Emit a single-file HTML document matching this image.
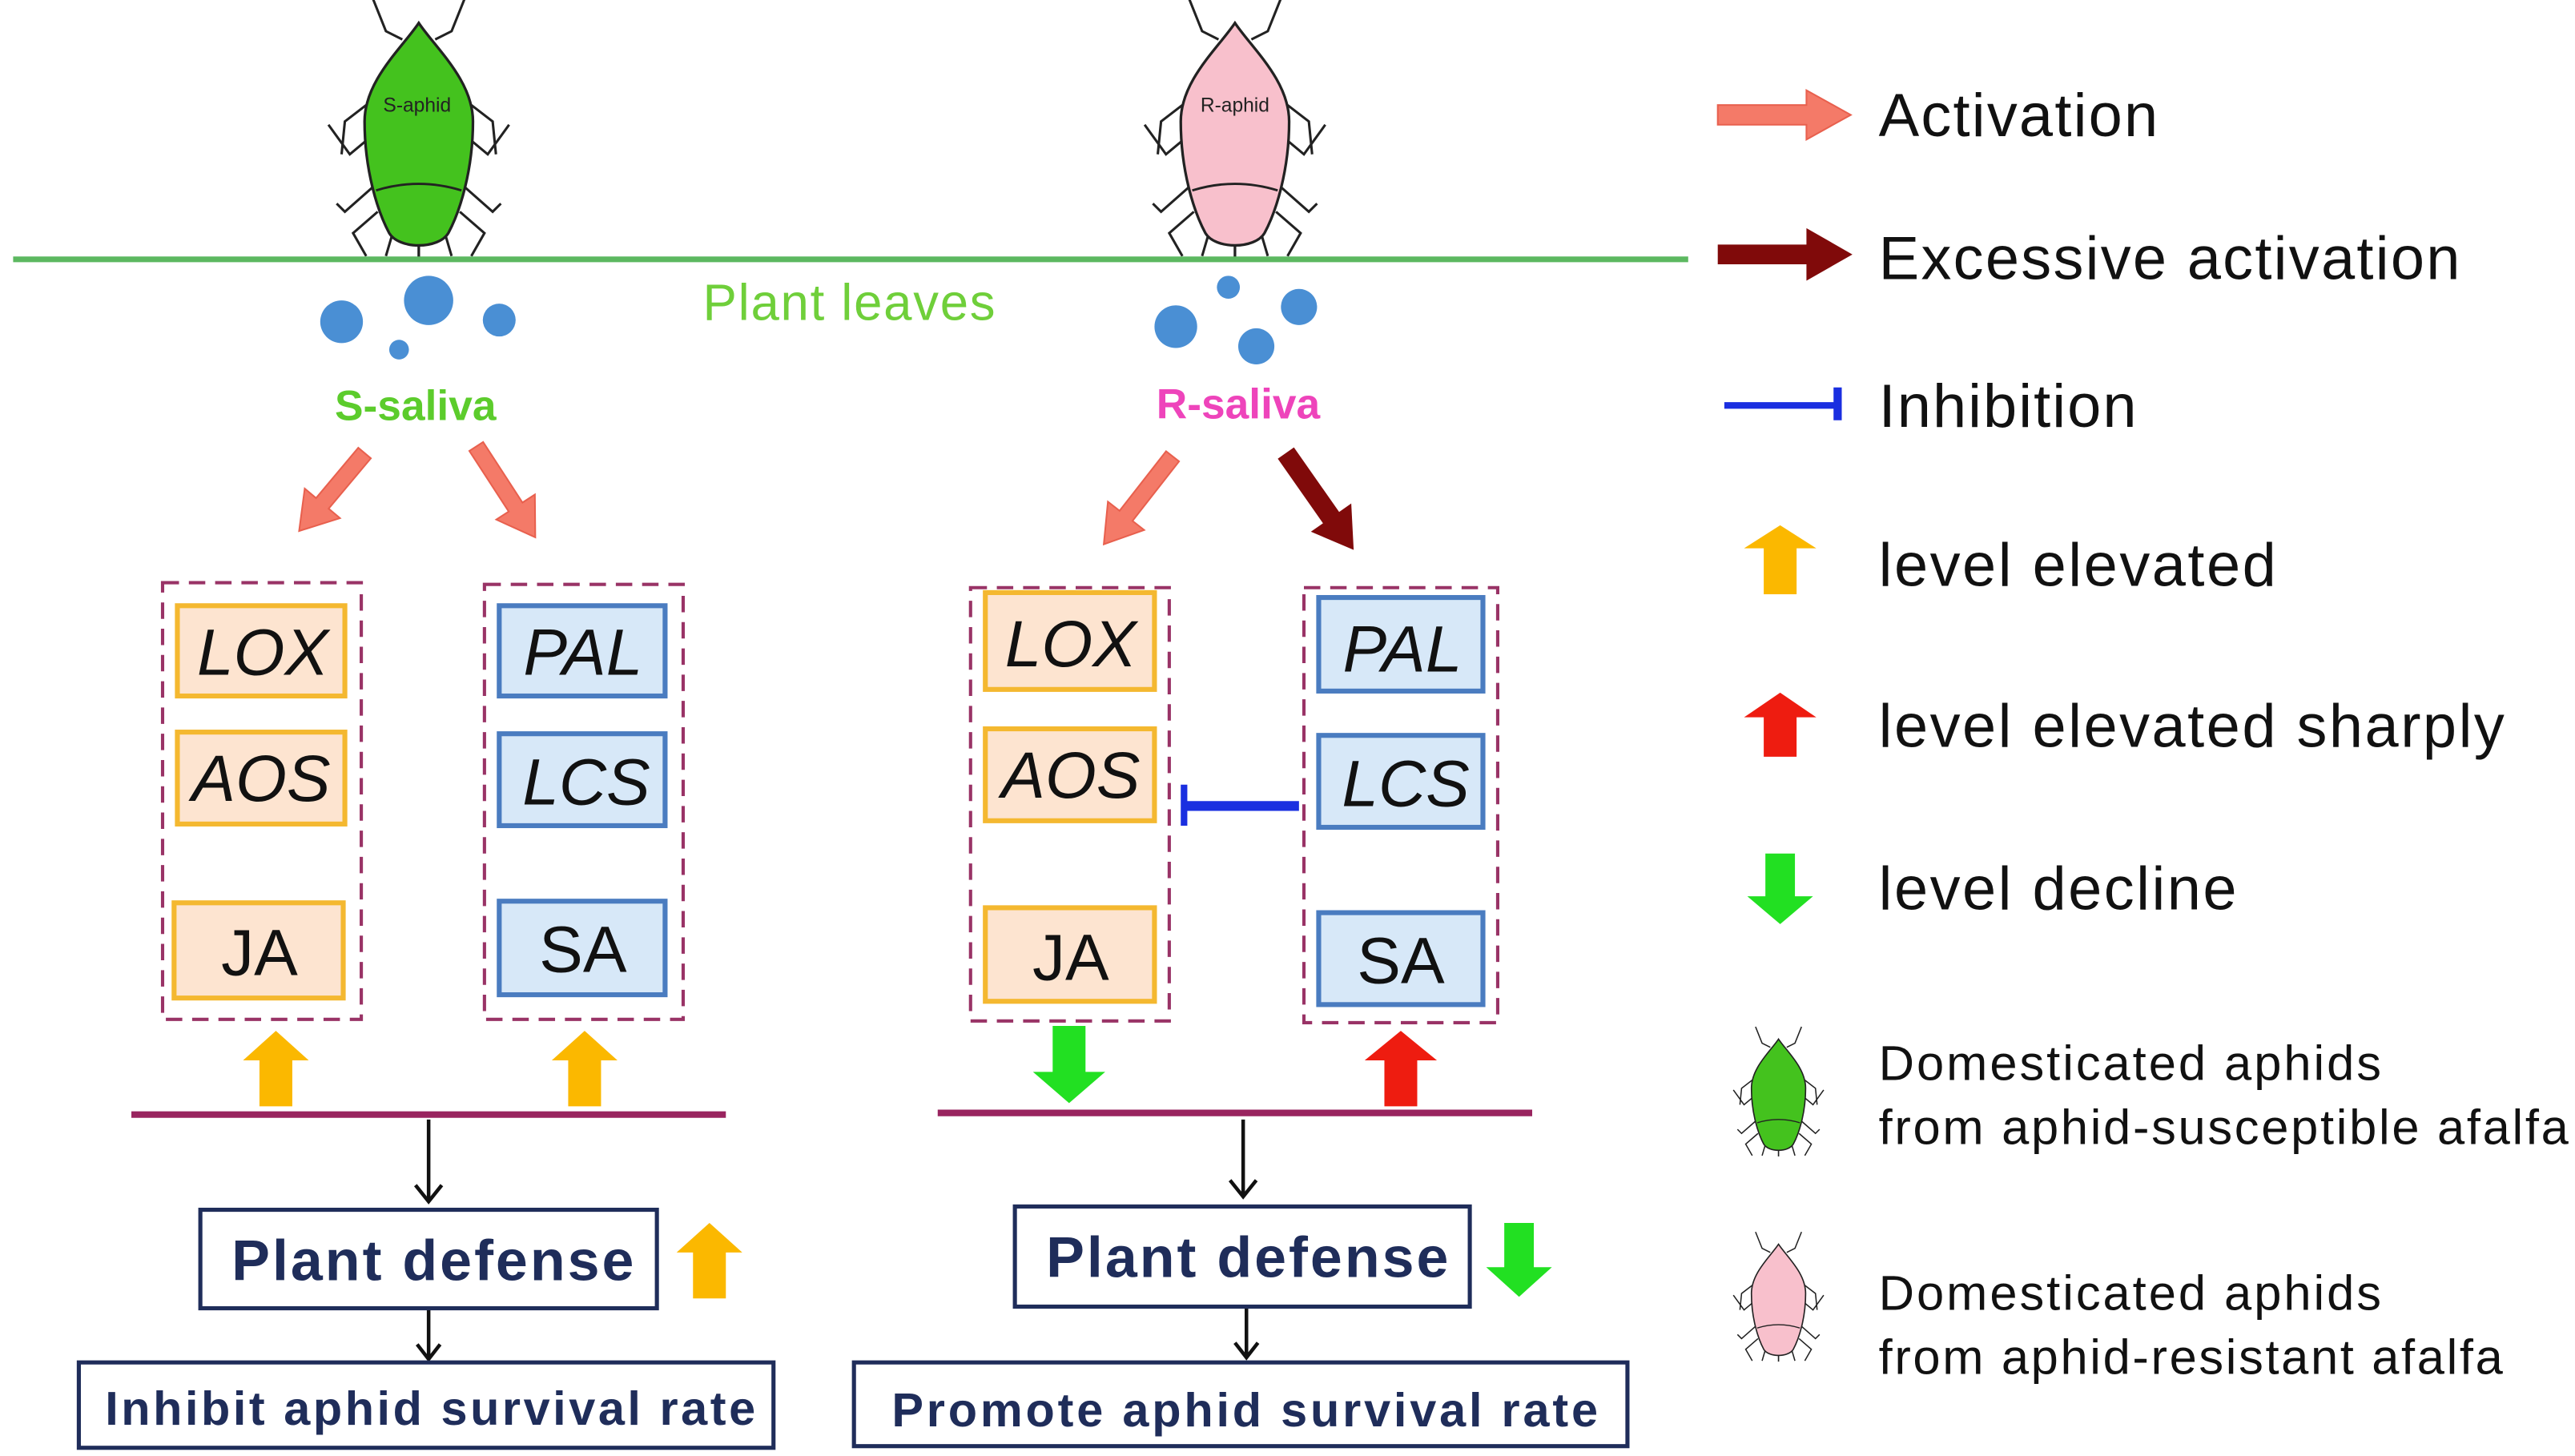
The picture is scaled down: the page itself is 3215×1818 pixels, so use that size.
<!DOCTYPE html>
<html><head><meta charset="utf-8"><style>html,body{margin:0;padding:0;background:#fff}svg{display:block}</style></head>
<body>
<svg width="3215" height="1818" viewBox="0 0 1568 887" preserveAspectRatio="none" xmlns="http://www.w3.org/2000/svg" font-family="Liberation Sans, sans-serif">
<defs>
<g id="aphid">
 <g stroke="#222" stroke-width="1.5" fill="none">
  <path d="M-10,-60 L-20,-65 L-28,-85 M10,-60 L20,-65 L28,-85"/>
  <path d="M-32,-20 L-45,-10 L-47,10 M32,-20 L45,-10 L47,10"/>
  <path d="M-30,0 L-42,10 L-55,-8 M30,0 L42,10 L55,-8"/>
  <path d="M-28,30 L-45,45 L-50,40 M28,30 L45,45 L50,40"/>
  <path d="M-25,45 L-40,58 L-32,72 M25,45 L40,58 L32,72"/>
  <path d="M-15,55 L-20,72 M15,55 L20,72"/>
 </g>
 <path d="M0,-70 C-10,-55 -33,-35 -33,-10 C-33,20 -25,45 -18,58 C-12,68 12,68 18,58 C25,45 33,20 33,-10 C33,-35 10,-55 0,-70Z" stroke="#222" stroke-width="1.6"/>
 <path d="M-26,32 Q0,24 26,32" stroke="#222" stroke-width="1.4" fill="none"/>
 <line x1="0" y1="66" x2="0" y2="73" stroke="#222" stroke-width="1.6"/>
</g>
</defs>
<!-- aphids -->
<use href="#aphid" transform="translate(255,84)" fill="#44c21e"/>
<text x="254" y="68" font-size="12" text-anchor="middle" fill="#222">S-aphid</text>
<use href="#aphid" transform="translate(752,84)" fill="#f8c0cc"/>
<text x="752" y="68" font-size="12" text-anchor="middle" fill="#222">R-aphid</text>

<line x1="8" y1="158" x2="1028" y2="158" stroke="#5cb860" stroke-width="3.5"/>
<text x="428" y="195" font-size="31" fill="#6fcf3a" textLength="178">Plant leaves</text>
<g fill="#4a8fd4">
 <circle cx="208" cy="196" r="13"/><circle cx="261" cy="183" r="15"/><circle cx="304" cy="195" r="10"/><circle cx="243" cy="213" r="6"/>
 <circle cx="716" cy="199" r="13"/><circle cx="748" cy="175" r="7"/><circle cx="791" cy="187" r="11"/><circle cx="765" cy="211" r="11"/>
</g>
<text x="253" y="256" font-size="26" font-weight="bold" fill="#5ccc2c" text-anchor="middle">S-saliva</text>
<text x="754" y="255" font-size="26" font-weight="bold" fill="#ee44bb" text-anchor="middle">R-saliva</text>

<!-- diagonal arrows -->
<g stroke="#e8604e" stroke-width="1" fill="#f47a68">
 <path d="M0,-5 L40,-5 L40,-14 L62,0 L40,14 L40,5 L0,5Z" transform="translate(222,276) rotate(130)"/>
 <path d="M0,-5 L44,-5 L44,-14 L66,0 L44,14 L44,5 L0,5Z" transform="translate(290,272) rotate(57)"/>
 <path d="M0,-5 L46,-5 L46,-14 L68,0 L46,14 L46,5 L0,5Z" transform="translate(714,278) rotate(128)"/>
</g>
<path d="M0,-6 L48,-6 L48,-15 L72,0 L48,15 L48,6 L0,6Z" transform="translate(783,276) rotate(55)" fill="#800a0a"/>

<!-- dashed boxes -->
<g fill="none" stroke="#993366" stroke-width="2" stroke-dasharray="10,6">
 <rect x="99" y="355" width="121" height="266"/>
 <rect x="295" y="356" width="121" height="265"/>
 <rect x="591" y="358" width="121" height="264"/>
 <rect x="794" y="358" width="118" height="265"/>
</g>
<g stroke="#f4b830" stroke-width="3" fill="#fde4d0">
 <rect x="108" y="369" width="102" height="55"/><rect x="108" y="446" width="102" height="56"/><rect x="106" y="550" width="103" height="58"/>
 <rect x="600" y="361" width="103" height="59"/><rect x="600" y="444" width="103" height="56"/><rect x="600" y="553" width="103" height="57"/>
</g>
<g stroke="#4a7cc0" stroke-width="3" fill="#d7e8f8">
 <rect x="304" y="369" width="101" height="55"/><rect x="304" y="447" width="101" height="56"/><rect x="304" y="549" width="101" height="57"/>
 <rect x="803" y="364" width="100" height="57"/><rect x="803" y="448" width="100" height="56"/><rect x="803" y="556" width="100" height="56"/>
</g>
<g font-size="40" fill="#111" text-anchor="middle">
 <text x="160" y="411" font-style="italic">LOX</text><text x="159" y="488" font-style="italic">AOS</text><text x="158" y="594">JA</text>
 <text x="355" y="411" font-style="italic">PAL</text><text x="357" y="490" font-style="italic">LCS</text><text x="355" y="592">SA</text>
 <text x="652" y="406" font-style="italic">LOX</text><text x="652" y="486" font-style="italic">AOS</text><text x="652" y="597">JA</text>
 <text x="854" y="409" font-style="italic">PAL</text><text x="856" y="491" font-style="italic">LCS</text><text x="853" y="599">SA</text>
</g>
<line x1="791" y1="491" x2="722" y2="491" stroke="#1a2fe0" stroke-width="6"/>
<line x1="721" y1="478" x2="721" y2="503" stroke="#1a2fe0" stroke-width="4"/>

<!-- level arrows -->
<path d="M-10,0 L-10,-28 L-20,-28 L0,-46 L20,-28 L10,-28 L10,0Z" fill="#fbb800" transform="translate(168,674)"/>
<path d="M-10,0 L-10,-28 L-20,-28 L0,-46 L20,-28 L10,-28 L10,0Z" fill="#fbb800" transform="translate(356,674)"/>
<path d="M-10,0 L-10,-28 L-22,-28 L0,-46 L22,-28 L10,-28 L10,0Z" fill="#ee1c10" transform="translate(853,674)"/>
<path d="M-10,0 L-10,28 L-22,28 L0,47 L22,28 L10,28 L10,0Z" fill="#22e022" transform="translate(651,625)"/>
<path d="M-10,0 L-10,-28 L-20,-28 L0,-46 L20,-28 L10,-28 L10,0Z" fill="#fbb800" transform="translate(432,791)"/>
<path d="M-9,0 L-9,27 L-20,27 L0,45 L20,27 L9,27 L9,0Z" fill="#22e022" transform="translate(925,745)"/>

<line x1="80" y1="679" x2="442" y2="679" stroke="#99245f" stroke-width="4"/>
<line x1="571" y1="678" x2="933" y2="678" stroke="#99245f" stroke-width="4"/>
<g stroke="#111" stroke-width="2.2" fill="none">
 <path d="M261,682 V731 M253,722 L261,732 L269,722"/>
 <path d="M757,682 V728 M749,719 L757,729 L765,719"/>
 <path d="M261,798 V827 M254,819 L261,828 L268,819"/>
 <path d="M759,797 V826 M752,818 L759,827 L766,818"/>
</g>
<g fill="#fff" stroke="#1f2d5a" stroke-width="2.5">
 <rect x="122" y="737" width="278" height="60"/><rect x="618" y="735" width="277" height="61"/>
 <rect x="48" y="830" width="423" height="52"/><rect x="520" y="830" width="471" height="51"/>
</g>
<g font-weight="bold" fill="#1f2d5a">
 <text x="141" y="780" font-size="35" textLength="245">Plant defense</text>
 <text x="637" y="778" font-size="35" textLength="245">Plant defense</text>
 <text x="64" y="868" font-size="29" textLength="396">Inhibit aphid survival rate</text>
 <text x="543" y="869" font-size="29" textLength="430">Promote aphid survival rate</text>
</g>

<!-- legend -->
<path d="M1046,64 L1100,64 L1100,55 L1127,70 L1100,85 L1100,76 L1046,76Z" fill="#f47a68" stroke="#e8604e"/>
<path d="M1046,149 L1100,149 L1100,139 L1128,155 L1100,171 L1100,161 L1046,161Z" fill="#800a0a"/>
<line x1="1050" y1="247" x2="1118" y2="247" stroke="#1a2fe0" stroke-width="4"/>
<line x1="1119" y1="236" x2="1119" y2="256" stroke="#1a2fe0" stroke-width="5"/>
<path d="M-10,0 L-10,-28 L-22,-28 L0,-42 L22,-28 L10,-28 L10,0Z" fill="#fbb800" transform="translate(1084,362)"/>
<path d="M-10,0 L-10,-24 L-22,-24 L0,-39 L22,-24 L10,-24 L10,0Z" fill="#ee1c10" transform="translate(1084,461)"/>
<path d="M-9,0 L-9,26 L-20,26 L0,43 L20,26 L9,26 L9,0Z" fill="#22e022" transform="translate(1084,520)"/>
<use href="#aphid" transform="translate(1083,668) scale(0.5)" fill="#44c21e"/>
<use href="#aphid" transform="translate(1083,793) scale(0.5)" fill="#f8c0cc"/>
<g fill="#111">
 <text x="1144" y="83" font-size="37" textLength="170">Activation</text>
 <text x="1144" y="170" font-size="37" textLength="354">Excessive activation</text>
 <text x="1144" y="260" font-size="37" textLength="157">Inhibition</text>
 <text x="1144" y="357" font-size="37" textLength="242">level elevated</text>
 <text x="1144" y="455" font-size="37" textLength="381">level elevated sharply</text>
 <text x="1144" y="554" font-size="37" textLength="218">level decline</text>
 <text x="1144" y="658" font-size="30" textLength="306">Domesticated aphids</text>
 <text x="1144" y="697" font-size="30" textLength="420">from aphid-susceptible afalfa</text>
 <text x="1144" y="798" font-size="30" textLength="306">Domesticated aphids</text>
 <text x="1144" y="837" font-size="30" textLength="380">from aphid-resistant afalfa</text>
</g>
</svg>
</body></html>
